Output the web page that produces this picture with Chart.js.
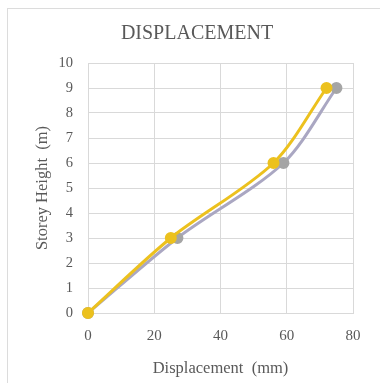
<!DOCTYPE html>
<html>
<head>
<meta charset="utf-8">
<script src="https://cdn.jsdelivr.net/npm/chart.js@4.4.1/dist/chart.umd.min.js"></script>
<style>
  html, body { margin: 0; padding: 0; background: #ffffff; }
  #wrap { width: 380px; height: 383px; position: relative; }
</style>
</head>
<body>
<div id="wrap"><canvas id="chart" width="380" height="383"></canvas></div>
<script>
// Storey heights (m) at each floor level
const storeyHeights = [0, 3, 6, 9];
// Lateral displacement (mm) for the two cases
const displacementGray = [0, 27, 59, 75];
const displacementYellow = [0, 25, 56, 72];
// Axis tick values
const xTicks = [0, 20, 40, 60, 80];
const yTicks = [0, 1, 2, 3, 4, 5, 6, 7, 8, 9, 10];
const chartTitle = 'DISPLACEMENT';

const serif = '"Liberation Serif", "Times New Roman", serif';
const textGray = '#595959';
const gridGray = '#d9d9d9';

function toPoints(xs, ys) {
  return xs.map((x, i) => ({ x: x, y: ys[i] }));
}

// Light frame around the chart and the heading above the plot
const framePlugin = {
  id: 'frame',
  beforeDraw(chart) {
    const ctx = chart.ctx;
    ctx.save();
    ctx.fillStyle = '#ffffff';
    ctx.fillRect(0, 0, chart.width, chart.height);
    ctx.strokeStyle = '#dcdcdc';
    ctx.lineWidth = 1;
    ctx.strokeRect(7.5, 8.5, chart.width + 10, chart.height + 10);
    ctx.fillStyle = textGray;
    ctx.font = '20px ' + serif;
    ctx.textAlign = 'center';
    ctx.textBaseline = 'middle';
    ctx.fillText(chartTitle, 197, 34);
    ctx.restore();
  }
};

new Chart(document.getElementById('chart'), {
  type: 'line',
  data: {
    datasets: [
      {
        label: 'Gray',
        data: toPoints(displacementGray, storeyHeights),
        borderColor: '#aaa7c2',
        backgroundColor: '#a5a5a5',
        pointBackgroundColor: '#a5a5a5',
        pointBorderColor: '#a5a5a5',
        borderWidth: 3,
        pointRadius: 4.5,
        tension: 0.3,
        clip: false,
        order: 2
      },
      {
        label: 'Yellow',
        data: toPoints(displacementYellow, storeyHeights),
        borderColor: '#ecc11e',
        backgroundColor: '#ecc11e',
        pointBackgroundColor: '#ecc11e',
        pointBorderColor: '#ecc11e',
        borderWidth: 3,
        pointRadius: 4.5,
        tension: 0.3,
        clip: false,
        order: 1
      }
    ]
  },
  options: {
    responsive: false,
    animation: false,
    devicePixelRatio: 1,
    layout: { padding: { left: 0, right: 27, top: 63, bottom: 0 } },
    plugins: {
      legend: { display: false },
      tooltip: { enabled: false },
      title: { display: false }
    },
    scales: {
      x: {
        type: 'linear',
        min: 0,
        max: 80,
        afterBuildTicks(scale) { scale.ticks = xTicks.map(v => ({ value: v })); },
        afterFit(scale) { scale.height = 70; },
        grid: { color: gridGray, drawTicks: false },
        border: { color: gridGray },
        ticks: { color: textGray, padding: 14, font: { family: serif, size: 15 } },
        title: {
          display: true,
          text: 'Displacement  (mm)',
          color: textGray,
          font: { family: serif, size: 16.5 },
          padding: { top: 2 }
        }
      },
      y: {
        type: 'linear',
        min: 0,
        max: 10,
        afterBuildTicks(scale) { scale.ticks = yTicks.map(v => ({ value: v })); },
        afterFit(scale) { scale.width = 88; },
        grid: { color: gridGray, drawTicks: false },
        border: { color: gridGray },
        ticks: { color: textGray, padding: 15, font: { family: serif, size: 14.5 } },
        title: {
          display: true,
          text: 'Storey Height  (m)',
          color: textGray,
          font: { family: serif, size: 16.5 },
          padding: { top: 33, bottom: 0 }
        }
      }
    }
  },
  plugins: [framePlugin]
});
</script>
</body>
</html>
